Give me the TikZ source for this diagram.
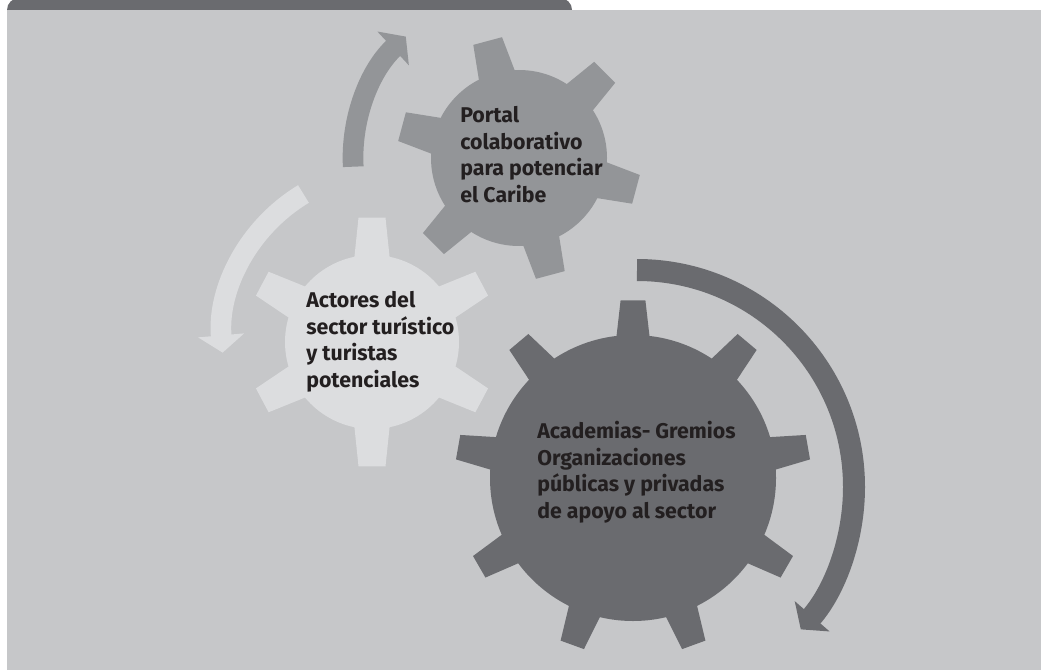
\documentclass[tikz,border=0pt]{standalone}
\usepackage{fontspec}
\setmainfont{Fira Sans}
\usetikzlibrary{arrows.meta}
\definecolor{bgc}{HTML}{C6C7C9}
\definecolor{darkc}{HTML}{6A6B6F}
\definecolor{midc}{HTML}{939598}
\definecolor{lightc}{HTML}{DCDDDF}
\definecolor{txtc}{HTML}{231F20}
% #1 colour, #2 cx, #3 cy, #4 body radius, #5 tip radius, #6 tooth angles, #7 base half-angle, #8 tip half-angle
\newcommand\drawgear[8]{%
  \begin{scope}[shift={(#2,#3)}]
    \fill[#1] (0,0) circle[radius=#4];
    \foreach \a in {#6}{%
      \fill[#1] (\a-#7:#4-6) -- (\a-#8:#5) -- (\a+#8:#5) -- (\a+#7:#4-6) -- cycle;
    }
  \end{scope}}
\begin{document}
\begin{tikzpicture}[x=0.75pt,y=-0.75pt,
  gtext/.style={anchor=north west, inner sep=0pt, align=left, text=txtc,
    font=\bfseries\fontsize{16}{20}\selectfont},
  flowarrow/.style={line width=15.5pt, -{Triangle[width=34pt,length=13pt]}}]
\useasboundingbox (0,0) rectangle (1041,670);
\fill[white] (0,0) rectangle (1041,670);
% header tab and panel
\fill[darkc, rounded corners=9pt] (7,-2) rectangle (572,30);
\fill[bgc] (7,10) rectangle (1041,670);
% gears
\drawgear{midc}{519}{158}{88}{122}{-105,-45,15,75,135,195}{13.5}{7}
\drawgear{lightc}{372}{342}{87}{125}{-90,-28,28,90,152,208}{13}{6.2}
\drawgear{darkc}{633}{478}{143}{178}{-90,-50,-10,30,70,110,150,190,230}{7.2}{4}
% circular arrows
\draw[flowarrow, midc] (519,158) ++(177:166) arc[start angle=177, end angle=227, radius=166];
\draw[flowarrow, lightc] (390,338) ++(239:168) arc[start angle=239, end angle=175, radius=168];
\draw[flowarrow, darkc, line width=16.5pt] (637,487) ++(270:217) arc[start angle=270, end angle=401, radius=217];
% labels
\node[gtext] (portal) at (460,106) {Portal\\colaborativo\\para potenciar\\el Caribe};
\node[gtext] (actores) at (306,291) {Actores del\\sector turístico\\y turistas\\potenciales};
\node[gtext] (acad) at (537,421) {Academias- Gremios\\Organizaciones\\públicas y privadas\\de apoyo al sector};
\end{tikzpicture}
\end{document}
